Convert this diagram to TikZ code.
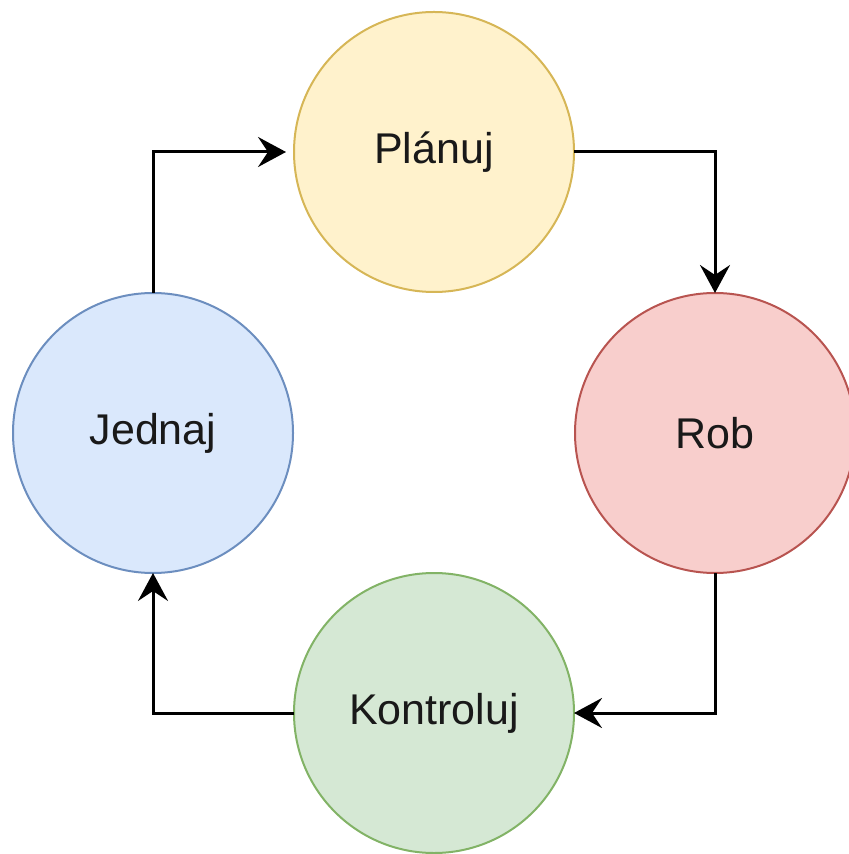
\documentclass[tikz,border=0pt]{standalone}
\usepackage{fontspec}
\setmainfont{Liberation Sans}
\usetikzlibrary{arrows.meta}
\definecolor{yellowF}{HTML}{FFF2CC}
\definecolor{yellowS}{HTML}{D6B656}
\definecolor{redF}{HTML}{F8CECC}
\definecolor{redS}{HTML}{B85450}
\definecolor{blueF}{HTML}{DAE8FC}
\definecolor{blueS}{HTML}{6C8EBF}
\definecolor{greenF}{HTML}{D5E8D4}
\definecolor{greenS}{HTML}{82B366}
\begin{document}
\begin{tikzpicture}[x=0.5pt,y=-0.5pt,
  circ/.style={circle, minimum size=140pt, inner sep=0pt, outer sep=0pt, line width=1pt, text=black!90, font=\fontsize{21.5}{25}\selectfont},
  conn/.style={line width=1.5pt, -{Stealth[length=14pt,width=15pt,inset=5pt]}}]
\useasboundingbox (0,0) rectangle (848,854);
\node[circ, draw=yellowS, fill=yellowF] (plan) at (434,152) {Plánuj};
\node[circ, draw=redS, fill=redF] (rob) at (715,433) {Rob};
\node[circ, draw=greenS, fill=greenF] (kon) at (434,713) {Kontroluj};
\node[circ, draw=blueS, fill=blueF] (jed) at (153,433) {Jednaj};
\draw[conn] (plan.east) -| (rob.north);
\draw[conn] (rob.south) |- (kon.east);
\draw[conn] (kon.west) -| (jed.south);
\draw[conn, shorten >=4pt] (jed.north) |- (plan.west);
\end{tikzpicture}
\end{document}
